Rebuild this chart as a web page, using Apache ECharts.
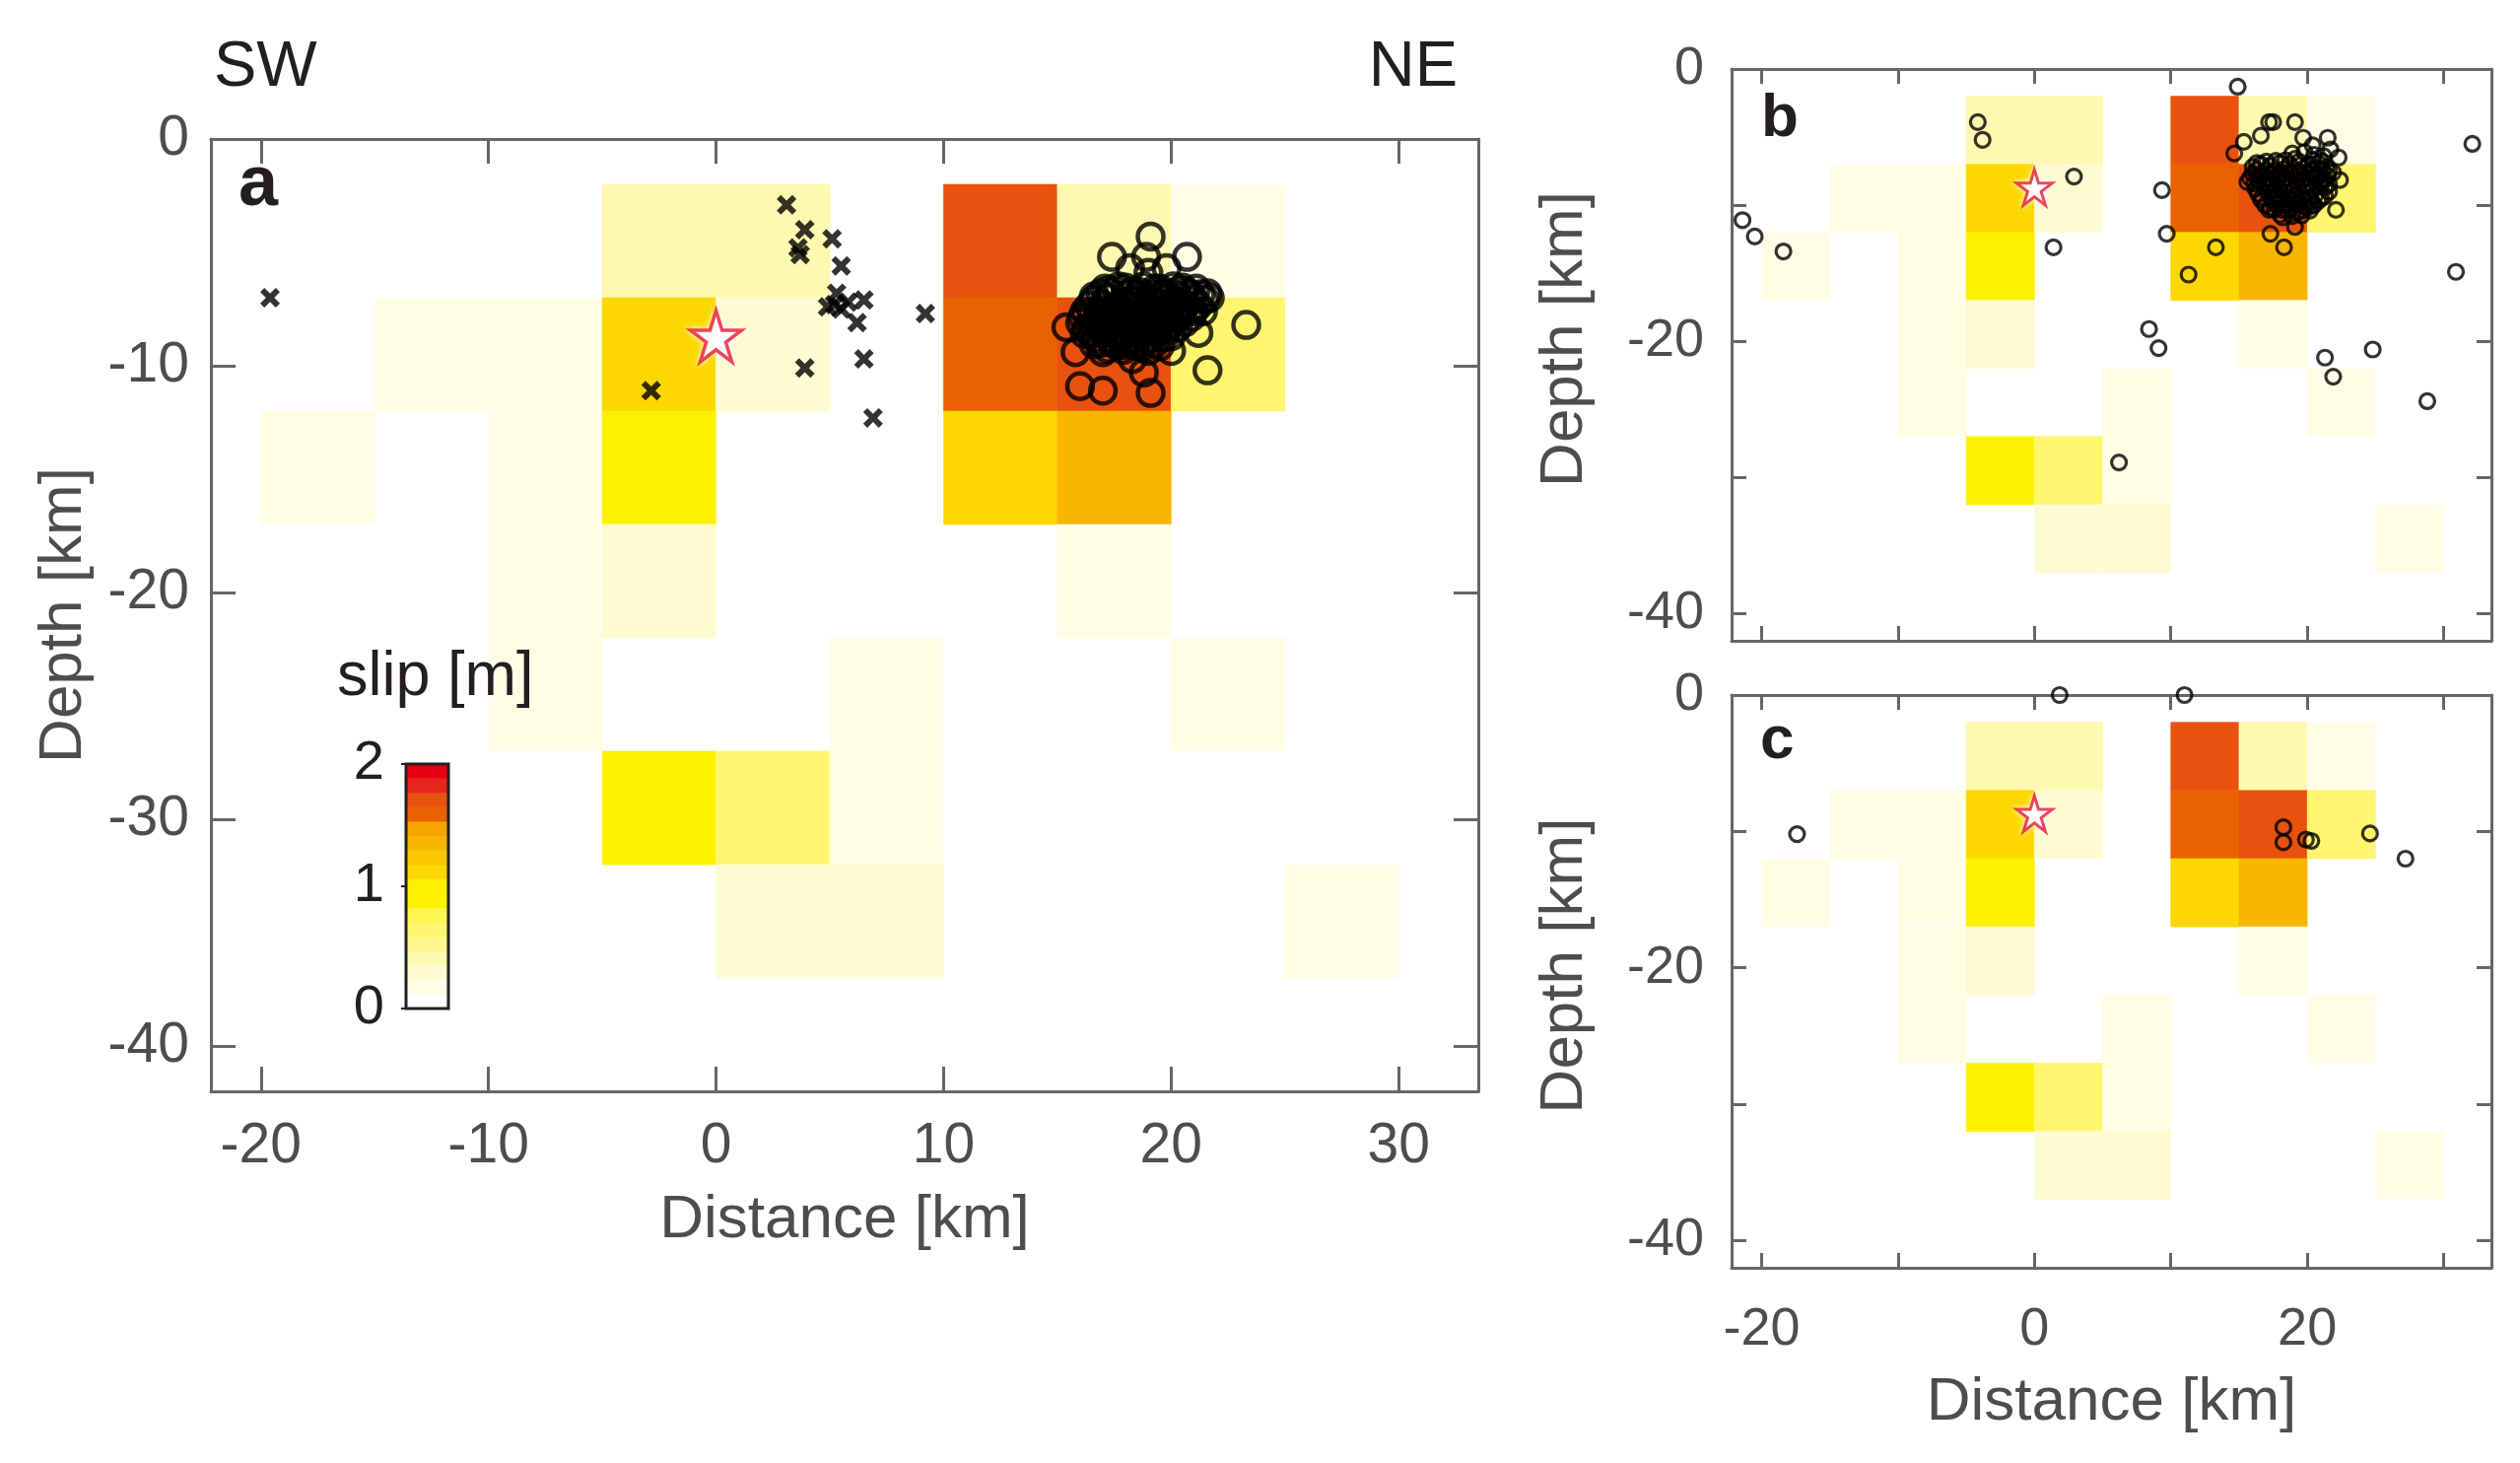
<!DOCTYPE html>
<html>
<head>
<meta charset="utf-8">
<title>Slip distribution</title>
<script src="https://cdn.jsdelivr.net/npm/echarts@6/dist/echarts.min.js"></script>
<style>
html, body { margin: 0; padding: 0; background: #fff; }
#slip-chart { width: 2557px; height: 1484px; }
</style>
</head>
<body>
<div id="slip-chart"></div>
<script>
var slipContainer = document.getElementById('slip-chart');
var slipChart = echarts.init(slipContainer);

// fault cells, 5 km x 5 km: left edge along strike and top edge in depth (km)
var cellLeft = [-20, -15, -10, -5, 0, 5, 10, 15, 20, 25];
var cellTop = [-2, -7, -12, -17, -22, -27, -32];
var cellSize = 5;
// slip [m], one row per cellTop, one column per cellLeft
var slipRows = [
  [0, 0, 0, 0.41, 0.41, 0, 1.70, 0.41, 0.17, 0],
  [0, 0.17, 0.17, 1.15, 0.30, 0, 1.59, 1.70, 0.65, 0],
  [0.17, 0, 0.17, 0.97, 0, 0, 1.12, 1.35, 0, 0],
  [0, 0, 0.17, 0.30, 0, 0, 0, 0.17, 0, 0],
  [0, 0, 0.17, 0, 0, 0.17, 0, 0, 0.17, 0],
  [0, 0, 0, 0.90, 0.65, 0.17, 0, 0, 0, 0],
  [0, 0, 0, 0, 0.30, 0.30, 0, 0, 0, 0.17]
];
// discrete colour scale 0 -> 2 m
var slipMax = 2;
var slipColors = ['#ffffff', '#fffde6', '#fffbd0', '#fff8b0', '#fff690', '#fff56e', '#fff452', '#fff100', '#fff000',
  '#fcd800', '#fac800', '#f8b600', '#f6a500', '#ea6100', '#e8520e', '#e6261a', '#e60012'];

var hypocenter = [[0, -8.7]];

// panel a: crosses and circles
var crossesA = [[-19.6, -7.0], [3.1, -2.9], [3.9, -4.0], [3.6, -4.8], [3.7, -5.1], [5.1, -4.4], [5.5, -5.6],
  [5.3, -6.8], [4.9, -7.4], [5.2, -7.3], [5.5, -7.5], [5.8, -7.2], [6.5, -7.1], [6.2, -8.1], [9.2, -7.7],
  [3.9, -10.1], [-2.85, -11.1], [6.5, -9.7], [6.9, -12.3]];
var circlesA = [[19.1, -4.3], [17.4, -5.2], [18.9, -5.2], [20.7, -5.2], [18.2, -5.7], [19.8, -5.7], [19.0, -5.9],
  [21.7, -7.0], [23.3, -8.2], [21.2, -8.55], [15.4, -8.3], [15.8, -9.4], [17.0, -9.4], [18.3, -9.7],
  [20.0, -9.35], [21.6, -10.2], [16.0, -10.9], [17.0, -11.1], [19.1, -11.2], [18.8, -10.3],
  [17.1, -6.6], [17.7, -6.5], [18.3, -6.7], [18.8, -6.5], [19.5, -6.6], [20.1, -6.5], [20.6, -6.7], [21.1, -6.6],
  [16.6, -7.1], [17.2, -7.0], [17.9, -7.2], [18.5, -6.9], [19.1, -7.1], [19.8, -7.0], [20.3, -7.2], [20.9, -6.9], [21.5, -7.1],
  [16.2, -7.6], [16.9, -7.5], [17.5, -7.7], [18.1, -7.4], [18.8, -7.6], [19.3, -7.4], [19.9, -7.7], [20.5, -7.5], [21.0, -7.6],
  [16.0, -8.1], [16.7, -8.0], [17.3, -8.2], [17.8, -7.9], [18.5, -8.1], [19.0, -8.0], [19.7, -8.2], [20.2, -7.9],
  [16.5, -8.6], [17.1, -8.5], [17.7, -8.7], [18.3, -8.4], [18.9, -8.6], [19.4, -8.5], [20.0, -8.7],
  [16.9, -9.0], [17.6, -9.1], [18.1, -8.9], [18.7, -9.2], [19.3, -9.0],
  [16.9, -6.8], [17.4, -6.8], [18.0, -6.9], [18.6, -6.75], [19.2, -6.85], [19.7, -6.8], [20.3, -6.9], [20.8, -6.8], [21.3, -6.85],
  [16.4, -7.35], [17.0, -7.3], [17.6, -7.4], [18.2, -7.2], [18.7, -7.3], [19.4, -7.25], [20.0, -7.35], [20.6, -7.3], [21.2, -7.35],
  [16.1, -7.85], [16.8, -7.8], [17.4, -7.9], [18.0, -7.7], [18.6, -7.85], [19.2, -7.75], [19.8, -7.95], [20.4, -7.7], [20.9, -7.85],
  [16.3, -8.35], [16.9, -8.3], [17.5, -8.45], [18.1, -8.25], [18.7, -8.35], [19.2, -8.25], [19.8, -8.45], [20.3, -8.3],
  [16.7, -8.8], [17.3, -8.8], [17.9, -8.65], [18.5, -8.85], [19.1, -8.8], [19.7, -8.75],
  [17.2, -9.25], [17.9, -9.3], [18.4, -9.1], [19.0, -9.35],
  [16.6, -6.95], [17.3, -6.65], [18.0, -6.55], [18.5, -7.1], [19.3, -6.6], [19.9, -6.95], [20.5, -6.55], [21.0, -7.1], [21.6, -6.8],
  [16.5, -7.7], [17.1, -7.6], [17.8, -7.55], [18.4, -7.75], [19.1, -7.55], [19.6, -7.5], [20.2, -7.6], [20.8, -7.55], [21.4, -7.6],
  [16.2, -8.6], [16.6, -8.25], [17.2, -8.05], [17.9, -8.15], [18.4, -8.6], [19.0, -8.45], [19.5, -8.05], [20.0, -8.15], [20.6, -8.1],
  [16.6, -9.05], [17.4, -9.0], [18.0, -9.1], [18.7, -9.0], [19.5, -9.15]];

// panel b
var circlesB = [[14.9, -1.3], [-4.15, -3.9], [-3.8, -5.2], [2.9, -7.9], [9.35, -8.9], [-21.4, -11.1], [-20.5, -12.3],
  [-18.4, -13.4], [1.4, -13.1], [9.7, -12.1], [13.3, -13.1], [11.3, -15.1], [8.4, -19.1], [9.1, -20.5],
  [6.2, -28.9], [21.3, -21.2], [21.9, -22.6], [24.8, -20.6], [28.8, -24.4], [30.9, -14.9], [32.1, -5.5],
  [14.65, -6.2], [15.35, -5.35], [16.6, -4.9], [17.2, -3.9], [17.5, -3.9], [19.1, -3.9], [19.7, -5.05],
  [20.4, -5.6], [21.5, -5.05], [21.7, -5.9], [22.3, -6.5], [22.4, -8.15], [15.6, -8.3], [17.2, -10.35],
  [18.2, -10.9], [19.1, -11.6], [17.3, -12.1], [18.3, -13.1], [22.1, -10.35], [20.4, -10.0],
  [16.0, -7.2], [16.6, -7.0], [17.3, -7.1], [18.0, -6.9], [18.7, -7.0], [19.4, -6.8], [20.1, -7.0], [20.8, -6.9], [21.4, -7.2],
  [15.8, -8.0], [16.5, -7.8], [17.2, -8.0], [17.9, -7.8], [18.6, -8.0], [19.3, -7.7], [20.0, -8.0], [20.7, -7.8], [21.3, -8.1], [21.9, -7.6],
  [16.2, -8.8], [16.9, -8.6], [17.6, -8.9], [18.3, -8.7], [19.0, -8.9], [19.7, -8.6], [20.4, -8.8], [21.0, -8.6], [21.6, -9.0],
  [16.6, -9.6], [17.3, -9.4], [18.0, -9.7], [18.7, -9.5], [19.4, -9.8], [20.1, -9.5], [20.8, -9.7],
  [17.6, -10.3], [18.5, -10.4], [19.3, -10.5], [20.0, -10.2],
  [19.8, -6.1], [20.5, -6.3], [18.9, -6.2], [21.2, -6.4],
  [16.3, -7.4], [17.0, -7.45], [17.6, -7.5], [18.3, -7.35], [19.0, -7.45], [19.7, -7.3], [20.4, -7.45], [21.1, -7.4], [21.6, -7.5],
  [16.1, -8.4], [16.8, -8.3], [17.5, -8.45], [18.2, -8.25], [18.9, -8.4], [19.6, -8.2], [20.3, -8.4], [21.0, -8.25], [21.6, -8.45],
  [16.4, -9.2], [17.1, -9.05], [17.8, -9.3], [18.5, -9.1], [19.2, -9.3], [19.9, -9.1], [20.6, -9.25], [21.3, -9.35],
  [16.9, -10.0], [17.7, -9.9], [18.4, -10.05], [19.1, -9.95], [19.8, -10.1], [20.5, -10.0],
  [18.0, -10.7], [18.9, -10.8], [19.6, -10.75],
  [16.0, -7.7], [16.7, -7.65], [17.4, -7.75], [18.1, -7.6], [18.8, -7.7], [19.5, -7.55], [20.2, -7.7], [20.9, -7.6], [21.5, -7.85],
  [16.4, -8.2], [17.1, -8.7], [17.8, -8.15], [18.6, -8.6], [19.3, -8.1], [20.0, -8.6], [20.7, -8.05], [21.3, -8.7],
  [16.7, -9.4], [17.5, -9.65], [18.2, -9.45], [18.9, -9.7], [19.6, -9.45], [20.3, -9.7], [21.0, -9.5],
  [17.3, -10.2], [18.1, -10.35], [18.8, -10.25], [19.6, -10.4], [20.2, -10.4],
  [16.3, -6.9], [17.0, -6.8], [17.7, -6.75], [18.4, -6.7], [19.1, -6.6], [20.4, -6.7], [21.0, -6.75]];

// panel c
var circlesC = [[1.85, 0], [11.0, 0], [-17.4, -10.2], [18.25, -9.7], [18.25, -10.8], [19.9, -10.6], [20.3, -10.7],
  [24.6, -10.15], [27.2, -12.0]];

var xRange = [-22.2, 33.5];
var yRange = [-42, 0];

var fontName = "'Liberation Sans', Arial, sans-serif";
var frameColor = '#666666';
var labelGray = '#4d4d4d';
var darkText = '#231f20';

var starPath = 'path://M50,2 L61.2,36.3 L97.6,36.3 L68.2,57.6 L79.4,92 L50,70.7 L20.6,92 L31.8,57.6 L2.4,36.3 L38.8,36.3 Z';
var crossPath = 'path://M0,4.2 L4.2,0 L10,5.8 L15.8,0 L20,4.2 L14.2,10 L20,15.8 L15.8,20 L10,14.2 L4.2,20 L0,15.8 L5.8,10 Z';

function slipColor(v) {
  var i = Math.floor(v / slipMax * slipColors.length);
  return slipColors[Math.max(0, Math.min(slipColors.length - 1, i))];
}

var cellData = [];
slipRows.forEach(function (row, r) {
  row.forEach(function (v, c) {
    if (v > 0) cellData.push([cellLeft[c], cellTop[r], v]);
  });
});

function renderCell(params, api) {
  var x0 = api.value(0), y0 = api.value(1), v = api.value(2);
  var p0 = api.coord([x0, y0]);
  var p1 = api.coord([x0 + cellSize, y0 - cellSize]);
  var col = slipColor(v);
  return {
    type: 'rect',
    shape: { x: p0[0], y: p0[1], width: p1[0] - p0[0], height: p1[1] - p0[1] },
    style: { fill: col, stroke: col, lineWidth: 0.6 }
  };
}

function renderLevel(params, api) {
  var i = api.value(0);
  var step = slipMax / slipColors.length;
  var p0 = api.coord([0, (i + 1) * step]);
  var p1 = api.coord([1, i * step]);
  return {
    type: 'rect',
    shape: { x: p0[0], y: p0[1], width: p1[0] - p0[0], height: p1[1] - p0[1] },
    style: { fill: slipColors[i], stroke: slipColors[i], lineWidth: 0.6 }
  };
}

function frameAxis(gridIndex, position, range, split, tickLen) {
  return {
    type: 'value',
    gridIndex: gridIndex,
    position: position,
    min: range[0],
    max: range[1],
    splitNumber: split,
    axisLine: { show: true, onZero: false, lineStyle: { color: frameColor, width: 3 } },
    axisTick: { show: true, inside: true, length: tickLen, lineStyle: { color: frameColor, width: 3 } },
    axisLabel: { show: false },
    splitLine: { show: false }
  };
}

function labelled(axis, step, size, margin) {
  axis.axisLabel = {
    show: true,
    margin: margin,
    color: labelGray,
    fontSize: size,
    fontFamily: fontName,
    formatter: function (v) {
      return Math.abs(v % step) < 1e-6 ? String(Math.round(v)) : '';
    }
  };
  return axis;
}

function nameIt(axis, name, gap, shift) {
  axis.name = name;
  axis.nameLocation = 'middle';
  axis.nameGap = gap;
  axis.nameTextStyle = { color: labelGray, fontSize: 62, fontFamily: fontName };
  if (shift) axis.nameTextStyle.padding = [0, 0, 0, shift];
  return axis;
}

var xAxes = [
  nameIt(labelled(frameAxis(0, 'bottom', xRange, 5, 25), 10, 57, 28), 'Distance [km]', 100),
  frameAxis(0, 'top', xRange, 5, 25),
  frameAxis(1, 'bottom', xRange, 5, 15),
  frameAxis(1, 'top', xRange, 5, 15),
  nameIt(labelled(frameAxis(2, 'bottom', xRange, 5, 15), 20, 54, 36), 'Distance [km]', 106),
  frameAxis(2, 'top', xRange, 5, 15),
  { type: 'value', gridIndex: 3, min: 0, max: 1, show: false }
];
var yAxes = [
  nameIt(labelled(frameAxis(0, 'left', yRange, 4, 25), 10, 57, 22), 'Depth [km]', 118),
  frameAxis(0, 'right', yRange, 4, 25),
  nameIt(labelled(frameAxis(1, 'left', yRange, 4, 15), 20, 54, 28), 'Depth [km]', 138, 32),
  frameAxis(1, 'right', yRange, 4, 15),
  nameIt(labelled(frameAxis(2, 'left', yRange, 4, 15), 20, 54, 28), 'Depth [km]', 138, 32),
  frameAxis(2, 'right', yRange, 4, 15),
  {
    type: 'value', gridIndex: 3, position: 'left', min: 0, max: 2, interval: 1,
    axisLine: { show: false },
    axisTick: { show: true, length: 5, lineStyle: { color: darkText, width: 2 } },
    axisLabel: { margin: 22, color: darkText, fontSize: 56, fontFamily: fontName },
    splitLine: { show: false }
  }
];

function cellSeries(ax) {
  return {
    type: 'custom', xAxisIndex: ax, yAxisIndex: ax, renderItem: renderCell,
    encode: { x: 0, y: 1 }, data: cellData, z: 1, silent: true
  };
}
function eventSeries(ax, data, symbol, size, border, filled) {
  return {
    type: 'scatter', xAxisIndex: ax, yAxisIndex: ax, data: data, symbol: symbol, symbolSize: size,
    clip: false, silent: true, z: 3,
    itemStyle: filled
      ? { color: '#000000', borderWidth: 0 }
      : { color: 'rgba(0,0,0,0)', borderColor: '#000000', borderWidth: border }
  };
}
function starSeries(ax, size, border) {
  return {
    type: 'scatter', xAxisIndex: ax, yAxisIndex: ax, data: hypocenter, symbol: starPath, symbolSize: size,
    silent: true, z: 4,
    itemStyle: { color: '#ffffff', borderColor: '#e6163c', borderWidth: border, shadowColor: '#ffffff', shadowBlur: 6 }
  };
}

var slipOption = {
  backgroundColor: '#ffffff',
  animation: false,
  grid: [
    { left: 214, top: 141, width: 1286, height: 966 },
    { left: 1757, top: 70, width: 771, height: 580 },
    { left: 1757, top: 705, width: 771, height: 581 },
    { left: 412, top: 775, width: 43, height: 248, show: true, borderColor: darkText, borderWidth: 3, backgroundColor: 'transparent', z: 5 }
  ],
  xAxis: xAxes,
  yAxis: yAxes,
  graphic: [
    { type: 'text', x: 217, y: 69.5, style: { text: 'SW', font: '65px ' + fontName, fill: darkText, align: 'left', verticalAlign: 'middle' } },
    { type: 'text', x: 1479, y: 69.5, style: { text: 'NE', font: '65px ' + fontName, fill: darkText, align: 'right', verticalAlign: 'middle' } },
    { type: 'text', x: 242, y: 188, z: 10, style: { text: 'a', font: 'bold 72px ' + fontName, fill: darkText, align: 'left', verticalAlign: 'middle' } },
    { type: 'text', x: 1787, y: 121, z: 10, style: { text: 'b', font: 'bold 62px ' + fontName, fill: darkText, align: 'left', verticalAlign: 'middle' } },
    { type: 'text', x: 1786, y: 752, z: 10, style: { text: 'c', font: 'bold 62px ' + fontName, fill: darkText, align: 'left', verticalAlign: 'middle' } },
    { type: 'text', x: 342, y: 688, z: 10, style: { text: 'slip [m]', font: '63px ' + fontName, fill: darkText, align: 'left', verticalAlign: 'middle' } }
  ],
  series: [
    cellSeries(0),
    eventSeries(0, crossesA, crossPath, 20, 0, true),
    eventSeries(0, circlesA, 'circle', 26, 4.5, false),
    starSeries(0, 52, 3.5),
    cellSeries(2),
    eventSeries(2, circlesB, 'circle', 15, 3.2, false),
    starSeries(2, 36, 3),
    cellSeries(4),
    eventSeries(4, circlesC, 'circle', 15, 3.2, false),
    starSeries(4, 36, 3),
    {
      type: 'custom', xAxisIndex: 6, yAxisIndex: 6, renderItem: renderLevel, silent: true, z: 1,
      data: slipColors.map(function (c, i) { return [i]; })
    }
  ]
};

slipChart.setOption(slipOption);
</script>
</body>
</html>
